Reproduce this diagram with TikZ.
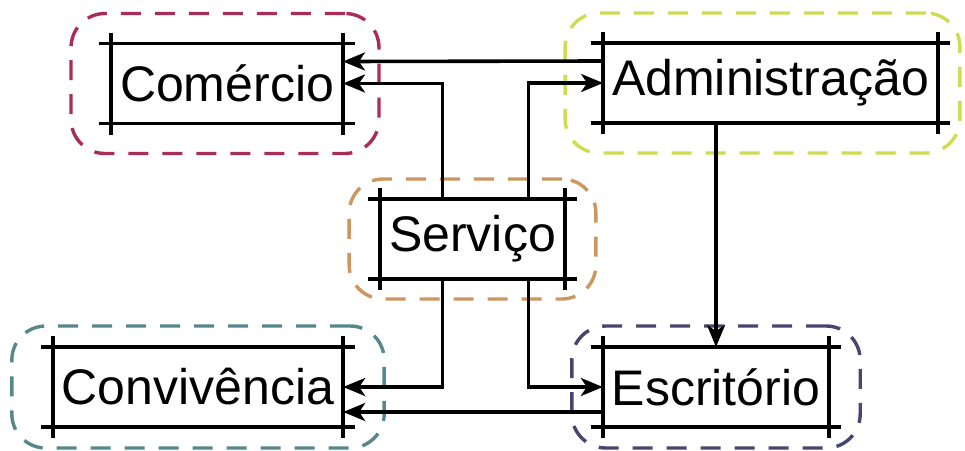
\documentclass[tikz,border=0pt]{standalone}
\usepackage{fontspec}
\setmainfont{Liberation Sans}
\usepackage{tikz}
\usetikzlibrary{arrows.meta,fit}

\definecolor{comcol}{RGB}{170,45,85}
\definecolor{admcol}{RGB}{205,220,80}
\definecolor{sercol}{RGB}{205,150,95}
\definecolor{concol}{RGB}{85,135,140}
\definecolor{esccol}{RGB}{70,70,110}

\begin{document}
\begin{tikzpicture}[
    x=1pt, y=-1pt,
    box/.style={rectangle, inner xsep=9pt, inner ysep=0pt, outer sep=0pt, minimum height=80pt, text centered, font=\fontsize{50}{56}\selectfont},
    rail/.style={line width=3.6pt},
    zone/.style={rectangle, draw=#1, dashed, dash pattern=on 20pt off 14pt, line width=3.4pt, rounded corners=34pt},
    arrow/.style={-{Stealth[length=22pt, width=18pt, inset=6pt]}, line width=3.6pt}
]
\useasboundingbox (0,0) rectangle (965,450);

\node[box] (com) at (227,83.5) {Comércio};
\node[box] (adm) at (770.5,83) {Administração};
\node[box] (ser) at (472.5,239) {Serviço};
\node[box] (con) at (198,387) {Convivência};
\node[box] (esc) at (716,387) {Escritório};

% dashed groups
\node[zone=comcol, fit=(com), inner xsep=38pt, inner ysep=30pt, xshift=-2pt] (comzone) {};
\node[zone=admcol, fit=(adm), inner xsep=30pt, inner ysep=30pt, xshift=-8pt] (admzone) {};
\node[zone=sercol, fit=(ser), inner xsep=31pt, inner ysep=20pt] (serzone) {};
\node[zone=concol, fit=(con), inner xsep=41pt, inner ysep=21pt] (conzone) {};
\node[zone=esccol, fit=(esc), inner xsep=31pt, inner ysep=21pt] (esczone) {};

% box edges
\foreach \n in {com,adm,ser,con,esc} {
  \draw[rail] ([xshift=-12pt]\n.north west) -- ([xshift=12pt]\n.north east);
  \draw[rail] ([xshift=-12pt]\n.south west) -- ([xshift=12pt]\n.south east);
  \draw[rail] ([yshift=11pt]\n.north west) -- ([yshift=-11pt]\n.south west);
  \draw[rail] ([yshift=11pt]\n.north east) -- ([yshift=-11pt]\n.south east);
}

\draw[arrow] ([yshift=22pt]adm.west) -- ([yshift=22pt]com.east);
\draw[arrow] ([xshift=-30pt]ser.north) |- (com.east);
\draw[arrow] ([xshift=56pt]ser.north) |- (adm.west);
\draw[arrow] (adm.south -| esc.north) -- (esc.north);
\draw[arrow] ([xshift=-30pt]ser.south) |- (con.east);
\draw[arrow] ([xshift=56pt]ser.south) |- (esc.west);
\draw[arrow] ([yshift=-25pt]esc.west) -- ([yshift=-25pt]con.east);
\end{tikzpicture}
\end{document}
